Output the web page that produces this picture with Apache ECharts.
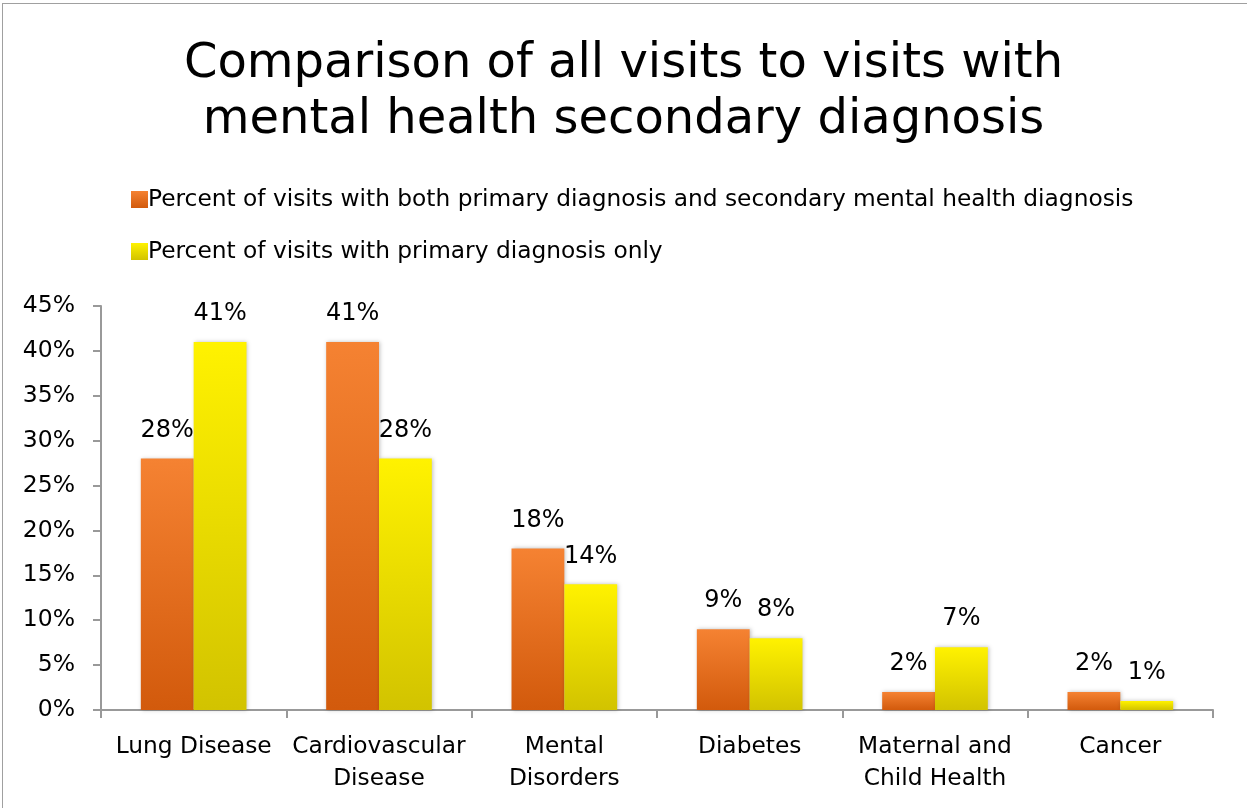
<!DOCTYPE html>
<html><head><meta charset="utf-8">
<script src="https://cdn.jsdelivr.net/npm/echarts@6/dist/echarts.min.js"></script>
<style>html,body{margin:0;padding:0;background:#fff}#c{width:1247px;height:808px}
#frame{position:absolute;left:2px;top:3px;width:1260px;height:820px;border:1px solid #a0a0a0;pointer-events:none}</style>
</head><body><div id="c"></div><div id="frame"></div>
<script>
const categories = ['Lung Disease', 'Cardiovascular\nDisease', 'Mental\nDisorders', 'Diabetes', 'Maternal and\nChild Health', 'Cancer'];
const bothValues = [28, 41, 18, 9, 2, 2];
const primaryOnlyValues = [41, 28, 14, 8, 7, 1];
const seriesNames = ['Percent of visits with both primary diagnosis and secondary mental health diagnosis', 'Percent of visits with primary diagnosis only'];
const titleText = 'Comparison of all visits to visits with\nmental health secondary diagnosis';

const font = 'Tahoma, "DejaVu Sans", sans-serif';
const chart = echarts.init(document.getElementById('c'));
const grad = (a, b) => new echarts.graphic.LinearGradient(0, 0, 0, 1, [{offset: 0, color: a}, {offset: 1, color: b}]);
chart.setOption({
  animation: false,
  title: {text: titleText, left: 'center', top: 32, textStyle: {fontFamily: font, fontSize: 48, fontWeight: 'normal', color: '#000', lineHeight: 56}},
  legend: {orient: 'vertical', left: 126, top: 183, itemGap: 29, itemWidth: 17, itemHeight: 17, icon: 'rect',
    textStyle: {fontFamily: font, fontSize: 23.3, color: '#000', padding: [0, 0, 0, -5]}, data: seriesNames},
  grid: {left: 101, right: 34, top: 306, bottom: 98, containLabel: false},
  xAxis: {type: 'category', data: categories,
    axisLine: {lineStyle: {color: '#999', width: 2}},
    axisTick: {show: true, length: 8, lineStyle: {color: '#999', width: 2}},
    axisLabel: {interval: 0, fontFamily: font, fontSize: 23.3, color: '#000', margin: 21, lineHeight: 32}},
  yAxis: {type: 'value', min: 0, max: 45, interval: 5,
    axisLine: {show: true, lineStyle: {color: '#999', width: 2}},
    axisTick: {show: true, length: 8, lineStyle: {color: '#999', width: 2}},
    splitLine: {show: false},
    axisLabel: {fontFamily: font, fontSize: 23.5, color: '#000', margin: 26, formatter: v => v + '%'}},
  series: [
    {name: seriesNames[0], type: 'bar', data: bothValues, barGap: '0%', barCategoryGap: '43%',
      itemStyle: {color: grad('#f58232', '#d25a0c'), shadowColor: 'rgba(0,0,0,0.25)', shadowBlur: 4, shadowOffsetX: 1},
      label: {show: true, position: 'top', distance: 16, formatter: p => p.value + '%', fontFamily: font, fontSize: 24, color: '#000'}},
    {name: seriesNames[1], type: 'bar', data: primaryOnlyValues,
      itemStyle: {color: grad('#fff200', '#d2c300'), shadowColor: 'rgba(0,0,0,0.25)', shadowBlur: 4, shadowOffsetX: 1},
      label: {show: true, position: 'top', distance: 16, formatter: p => p.value + '%', fontFamily: font, fontSize: 24, color: '#000'}}
  ]
});
</script></body></html>
